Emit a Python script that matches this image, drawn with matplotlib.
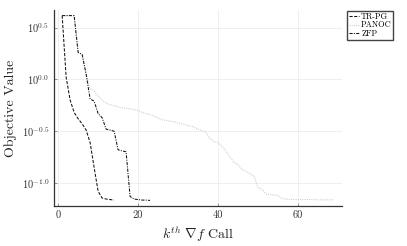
import numpy as np
import matplotlib
matplotlib.use("Agg")
import matplotlib.pyplot as plt
from matplotlib.ticker import FixedLocator, FixedFormatter

# objective value per gradient call
trpg = [4.121, 1.047, 0.631, 0.479, 0.417, 0.372, 0.324, 0.245, 0.141, 0.0832,
        0.0716, 0.0700, 0.0692, 0.0684]
zfp = [4.121, 4.121, 4.121, 4.121, 1.820, 1.738, 1.122, 0.646, 0.617, 0.468,
       0.427, 0.331, 0.324, 0.316, 0.209, 0.204, 0.200, 0.0741, 0.0700, 0.0692,
       0.0684, 0.0684, 0.0679]
panoc = [4.121, 4.121, 4.121, 4.121, 1.820, 1.738, 1.122, 0.813, 0.776, 0.692,
         0.631, 0.589, 0.569, 0.556, 0.543, 0.531, 0.525, 0.519, 0.513, 0.501,
         0.479, 0.468, 0.457, 0.442, 0.422, 0.407, 0.403, 0.394, 0.389, 0.380,
         0.372, 0.363, 0.355, 0.347, 0.331, 0.320, 0.309, 0.269, 0.251, 0.245,
         0.226, 0.204, 0.178, 0.158, 0.151, 0.135, 0.130, 0.123, 0.117, 0.0902,
         0.0871, 0.0785, 0.0776, 0.0767, 0.0759, 0.0708, 0.0700, 0.0695, 0.0692,
         0.0692, 0.0692, 0.0692, 0.0692, 0.0692, 0.0688, 0.0688, 0.0688, 0.0688,
         0.0688]

xticks = [0, 20, 40, 60]
yticks = [10**-1.0, 10**-0.5, 10**0.0, 10**0.5]
ytick_labels = [r"$10^{-1.0}$", r"$10^{-0.5}$", r"$10^{0.0}$", r"$10^{0.5}$"]

plt.rcParams["font.family"] = "serif"
plt.rcParams["font.serif"] = ["cmr10"]
plt.rcParams["mathtext.fontset"] = "cm"
plt.rcParams["axes.unicode_minus"] = False

fig = plt.figure(figsize=(4.07, 2.46), dpi=100)
ax = fig.add_axes([54/407, 1-206/246, (342-54)/407, (206-10)/246])

ax.plot(range(1, len(panoc)+1), panoc, linestyle=(0, (1, 1)), color="#cfcfcf", lw=0.8, label="PANOC")
ax.plot(range(1, len(trpg)+1), trpg, linestyle=(0, (3, 1.5)), color="#111111", lw=0.75, label="TR-PG")
ax.plot(range(1, len(zfp)+1), zfp, linestyle=(0, (3, 1.2, 1, 1.2)), color="#111111", lw=0.75, label="ZFP")

ax.set_yscale("log")
ax.set_xlim(-1.04, 71.04)
ax.set_ylim(10**-1.222, 10**0.669)
ax.yaxis.set_major_locator(FixedLocator(yticks))
ax.yaxis.set_major_formatter(FixedFormatter(ytick_labels))
ax.yaxis.set_minor_locator(FixedLocator([]))
ax.set_xticks(xticks)

ax.grid(True, color="#ececec", lw=0.6)
ax.set_axisbelow(True)
for s in ["top", "right"]:
    ax.spines[s].set_visible(False)
for s in ["left", "bottom"]:
    ax.spines[s].set_color("#333333")
    ax.spines[s].set_linewidth(0.9)
ax.tick_params(direction="in", length=2.5, width=0.6, color="#888888", labelsize=7.5, labelcolor="#333333")

ax.set_xlabel(r"$k^{th}\ \nabla f$ Call", fontsize=10, color="#222222", labelpad=3)
ax.set_ylabel("Objective Value", fontsize=10, color="#222222", labelpad=3)

h, l = ax.get_legend_handles_labels()
order = [1, 0, 2]
fig.legend([h[i] for i in order], [l[i] for i in order], loc="upper left",
           bbox_to_anchor=(347/407, 1-11/246), fontsize=6, frameon=True, fancybox=False,
           edgecolor="#444444", framealpha=1, handlelength=1.2, handletextpad=0.3,
           borderpad=0.2, labelspacing=0.0, borderaxespad=0)

fig.savefig("out.png", dpi=100)
